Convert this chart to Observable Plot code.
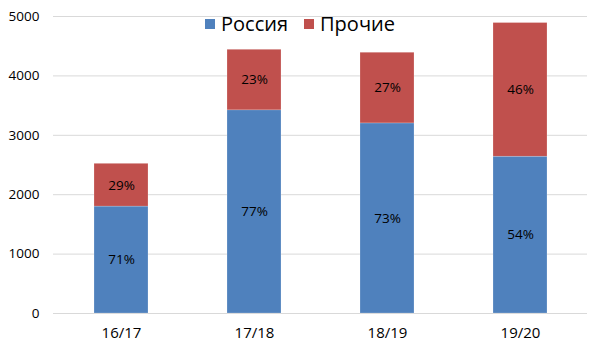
<!DOCTYPE html>
<html><head><meta charset="utf-8">
<script src="https://cdn.jsdelivr.net/npm/d3@7"></script>
<script src="https://cdn.jsdelivr.net/npm/@observablehq/plot@0.6"></script>
<style>
body{margin:0;background:#fff}
#wrap{position:relative;width:600px;height:352px;font-family:"Open Sans",sans-serif}
#legend{position:absolute;top:10px;left:0;width:600px;display:flex;justify-content:center;align-items:center;font-size:20px;color:#000;line-height:28px;pointer-events:none}
#legend .it{display:flex;align-items:center;margin:0 8px 0 8px}
#legend .sw{width:10px;height:10px;margin-right:6px}
</style></head><body>
<div id="wrap"><div id="chart"></div><div id="legend"></div></div>
<script>
const seasons = ["16/17","17/18","18/19","19/20"];
const russia = [1800,3420,3200,2640];
const others = [720,1020,1190,2250];
const seriesNames = ["Россия","Прочие"];
const seriesColors = ["#4F81BD","#C0504D"];
const yTicks = [0,1000,2000,3000,4000,5000];

const rows = [];
seasons.forEach((s,i)=>{
  const tot = russia[i]+others[i];
  rows.push({season:s, series:seriesNames[0], value:russia[i], mid:russia[i]/2, pct:Math.round(russia[i]/tot*100)+"%"});
  rows.push({season:s, series:seriesNames[1], value:others[i], mid:russia[i]+others[i]/2, pct:Math.round(others[i]/tot*100)+"%"});
});

const chart = Plot.plot({
  width:600, height:352,
  marginLeft:53, marginRight:13, marginTop:16, marginBottom:39,
  style:{fontFamily:"'Open Sans',sans-serif", background:"#fff"},
  x:{domain:seasons, paddingInner:0.595, paddingOuter:0.3, label:null},
  y:{domain:[0,5000], label:null},
  color:{domain:seriesNames, range:seriesColors},
  marks:[
    Plot.ruleY(yTicks,{stroke:"#d9d9d9", strokeWidth:1}),
    Plot.barY(rows,{x:"season", y:"value", fill:"series", order:seriesNames, stroke:"#fff", strokeWidth:0.5, strokeOpacity:0.4}),
    Plot.text(rows,{x:"season", y:"mid", text:"pct", fontSize:13.5, fill:"#000"}),
    Plot.axisX({tickSize:0, tickPadding:14, fontSize:15, label:null, fill:"#000"}),
    Plot.axisY({ticks:yTicks, tickFormat:d=>String(d), tickSize:0, tickPadding:14, fontSize:13.5, label:null, fill:"#000"})
  ]
});
chart.querySelectorAll("text").forEach(t=>t.setAttribute("fill","#000"));
document.getElementById("chart").appendChild(chart);

const lg = document.getElementById("legend");
seriesNames.forEach((n,i)=>{
  const it = document.createElement("div"); it.className="it";
  const sw = document.createElement("span"); sw.className="sw"; sw.style.background=seriesColors[i];
  const tx = document.createElement("span"); tx.textContent=n;
  it.appendChild(sw); it.appendChild(tx); lg.appendChild(it);
});
</script>
</body></html>
